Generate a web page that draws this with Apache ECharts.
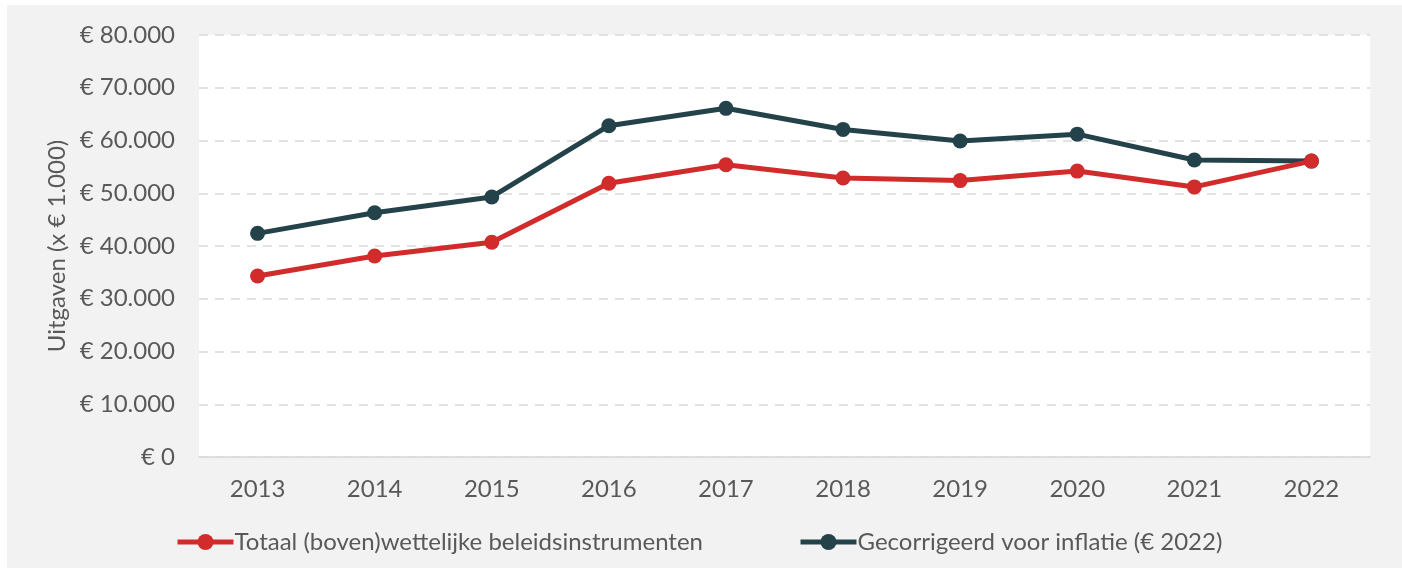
<!DOCTYPE html>
<html>
<head>
<meta charset="utf-8">
<script src="https://cdn.jsdelivr.net/npm/echarts@6/dist/echarts.min.js"></script>
<style>
  html, body {
    margin: 0;
    padding: 0;
    background: #fff;
  }
  .wrap {
    position: absolute;
    left: 7px;
    top: 5px;
    width: 1395px;
    height: 563px;
    background: #f2f2f2;
  }
  #chart {
    width: 1395px;
    height: 563px;
  }
</style>
</head>
<body>
<div class="wrap"><div id="chart"></div></div>
<script>
// jaren op de x-as
const years = ["2013", "2014", "2015", "2016", "2017", "2018", "2019", "2020", "2021", "2022"];
// uitgaven x € 1.000
const totaal = [34300, 38100, 40700, 51900, 55400, 52900, 52400, 54200, 51200, 56100];
const gecorrigeerd = [42400, 46300, 49300, 62800, 66100, 62100, 59900, 61200, 56300, 56100];
const seriesNames = ["Totaal (boven)wettelijke beleidsinstrumenten", "Gecorrigeerd voor inflatie (€ 2022)"];

const font = "Lato";
const textColor = "#595959";
const red = "#d22b2b";
const dark = "#244249";

function euro(v) {
  if (v === 0) return "€ 0";
  return "€ " + v.toLocaleString("de-DE");
}

// beide legenda's los, zodat ze op dezelfde plek staan als in het origineel
function legendItem(name, left) {
  return {
    left: left,
    top: 520,
    itemWidth: 56,
    itemHeight: 20,
    lineStyle: { width: 5 },
    textStyle: { fontSize: 24, color: textColor, fontFamily: font, padding: [0, 0, 0, -4] },
    data: [name],
  };
}

const mychart = echarts.init(document.getElementById("chart"));
mychart.setOption({
  textStyle: { fontFamily: font },
  grid: {
    left: 192,
    right: 32,
    top: 30,
    bottom: 111,
    show: true,
    backgroundColor: "#fff",
    borderWidth: 0,
  },
  legend: [legendItem(seriesNames[0], 163), legendItem(seriesNames[1], 786)],
  xAxis: {
    type: "category",
    data: years,
    boundaryGap: true,
    axisLine: { lineStyle: { color: "#d9d9d9", width: 1.5 } },
    axisTick: { show: false },
    axisLabel: { fontSize: 24, color: textColor, margin: 20 },
  },
  yAxis: {
    type: "value",
    min: 0,
    max: 80000,
    interval: 10000,
    name: "Uitgaven (x € 1.000)",
    nameLocation: "middle",
    nameGap: 130,
    nameTextStyle: { fontSize: 24, color: textColor },
    axisLine: { show: false },
    axisTick: { show: false },
    axisLabel: {
      fontSize: 24,
      color: textColor,
      margin: 24,
      formatter: euro,
    },
    splitLine: {
      lineStyle: { color: "#d9d9d9", type: [9, 7], width: 1.5 },
    },
  },
  series: [
    {
      name: seriesNames[0],
      type: "line",
      data: totaal,
      symbol: "circle",
      symbolSize: 15,
      lineStyle: { color: red, width: 5 },
      itemStyle: { color: red },
      z: 3,
    },
    {
      name: seriesNames[1],
      type: "line",
      data: gecorrigeerd,
      symbol: "circle",
      symbolSize: 15,
      lineStyle: { color: dark, width: 5 },
      itemStyle: { color: dark },
      z: 2,
    },
  ],
});
</script>
</body>
</html>
